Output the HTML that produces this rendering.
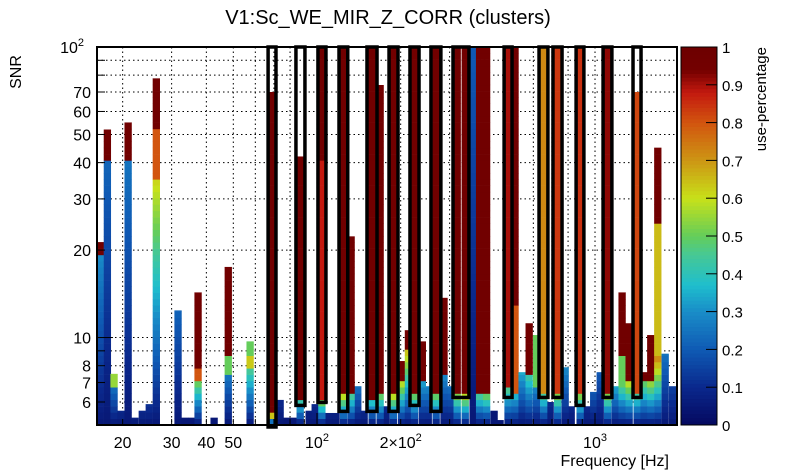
<!DOCTYPE html>
<html><head><meta charset="utf-8">
<style>
html,body{margin:0;padding:0;background:#fff;}
svg{display:block;font-family:"Liberation Sans",sans-serif;}
</style></head>
<body>
<svg id="chart" width="805" height="472" viewBox="0 0 805 472">
<text x="388" y="24" font-size="20" text-anchor="middle">V1:Sc_WE_MIR_Z_CORR (clusters)</text>
<text transform="translate(21,72) rotate(-90)" font-size="16" text-anchor="middle">SNR</text>
<text x="669" y="466" font-size="16" text-anchor="end">Frequency [Hz]</text>
<text transform="translate(766,47) rotate(-90)" font-size="15" text-anchor="end">use-percentage</text>
<g id="grid"></g>
<g id="floor"></g>
<g id="cols"></g>
<g id="clusters"></g>
<g id="axes"></g>
<g id="cbar"></g>
</svg>
<script>
// ---- data ----
const colFreq  = [16.6,17.6,18.6,19.7,20.9,22.1,23.5,24.9,26.4,31.6,33.5,35.5,37.3,42.6,47.9,57.4,68.9,73.6,
  86.9,104,124.5,132.5,157.7,168.5,188,201,213,224,239,268,286,319,341,364,384,407,486,515,546,579,616,653,733,780,883,1109,1250,1325,1416,1500,1585,1680,1786,1900];
const colTop   = [21.3,52,7.5,5.6,55,5.3,5.6,5.9,78,12.4,5.3,5.3,14.3,5.3,17.5,9.7,70,6.1,
  42,100,100,22.3,100,74,100,8.3,10.6,100,9.7,100,13.7,100,100,100,100,100,100,100,7.6,11.2,10.2,100,100,7.9,100,100,14.3,11.2,70,7.6,10.2,45,8.8,6.8];
const colSplit1= [19.5,40,6.8,5.6,40,5.3,5.6,5.9,35,12.4,5.3,5.3,7.2,5.3,7.3,7.7,5.5,6.1,
  6.2,6.2,6.3,6.3,6.2,6.3,6.3,7,9,6.3,7.2,6.3,7.5,6.5,6.3,100,6.5,6.3,6.8,6.5,7.6,7.5,6.8,6.5,6.5,7.9,6.5,6.5,7.2,7,6.5,7,7.2,8.5,8.8,6.8];
const colLow   = [0.3,0.22,0.25,0.1,0.25,0.08,0.1,0.12,0.62,0.22,0.05,0.05,0.55,0.05,0.25,0.45,0.8,0.1,
  0.5,0.6,0.6,0.45,0.45,0.5,0.6,0.6,0.65,0.5,0.35,0.5,0.3,0.6,0.6,0.2,0.5,0.5,0.5,0.4,0.35,0.45,0.3,0.5,0.6,0.3,0.6,0.6,0.55,0.6,0.5,0.5,0.6,0.72,0.25,0.15];
const colSplit2= [19.5,40,6.8,5.6,40,5.3,5.6,5.9,52,12.4,5.3,5.3,8,5.3,8.8,8.7,5.5,6.1,
  6.2,40,6.3,6.3,6.2,6.3,6.3,7,9,6.3,7.2,6.3,7.5,6.5,6.3,100,6.5,6.3,6.8,13,7.6,7.5,6.8,6.5,6.5,7.9,6.5,6.5,8.6,7,6.5,7,7.2,25,8.8,6.8];
const colMid   = [0.97,0.97,0.55,0.1,0.97,0.08,0.1,0.12,0.8,0.22,0.05,0.05,0.8,0.05,0.5,0.63,0.97,0.1,
  0.97,0.88,0.97,0.97,0.97,0.97,0.95,0.97,0.97,0.95,0.97,0.95,0.97,0.97,0.97,0.2,0.97,0.97,0.9,0.8,0.35,0.97,0.5,0.72,0.84,0.5,0.85,0.92,0.5,0.97,0.82,0.97,0.97,0.65,0.5,0.15];
const colHigh  = [0.97,0.97,0.55,0.1,0.97,0.08,0.1,0.12,0.97,0.22,0.05,0.05,0.97,0.05,0.97,0.5,0.97,0.1,
  0.97,0.97,0.97,0.97,0.97,0.97,0.95,0.97,0.97,0.95,0.97,0.95,0.97,0.97,0.97,0.2,0.97,0.97,0.9,0.97,0.35,0.97,0.5,0.72,0.84,0.5,0.85,0.92,0.97,0.97,0.82,0.97,0.97,0.97,0.5,0.15];
const floorFreq = [77.4,82,93.6,98.4,110.4,117,140,147.6,177,251,301,433,455,689,820,935,988,1043,1180];
const floorTop  = [5.3,5.3,5.6,5.9,5.5,5.5,6.8,5.6,5.8,6.8,6.8,5.6,5.2,6.0,5.8,5.8,6.5,7.6,6.8];
const floorVal  = [0.05,0.05,0.08,0.1,0.08,0.08,0.25,0.1,0.1,0.3,0.25,0.05,0.05,0.1,0.1,0.1,0.2,0.2,0.35];
const clusterLo = [66.7,84.0,100.8,120,151.3,181.6,216,257,308.5,471,629,706,855,1069,1370];
const clusterHi = [71.2,90.5,107.7,129,164.4,195.6,232.8,279,352,503,677,761,912,1150,1464];
const clusterBottom = [5,5.84,5.98,5.57,5.57,5.57,5.84,5.57,6.22,6.22,6.22,6.22,5.84,6.22,6.22];
const yTickVals = [6,7,8,10,20,30,40,50,60,70,100];
const yTickLabels = ["6","7","8","10","20","30","40","50","60","70","10<sup>2</sup>"];
const xTickVals = [20,30,40,50,100,200,1000];
const cbTickVals = [0,0.1,0.2,0.3,0.4,0.5,0.6,0.7,0.8,0.9,1];

// ---- axes ----
const PL=97, PR=677, PT=47, PB=425;
const XMIN=16.17, XMAX=1972, YMIN=5.0, YMAX=100;
const xs = f => PL + (PR-PL)*(Math.log10(f)-Math.log10(XMIN))/(Math.log10(XMAX)-Math.log10(XMIN));
const ys = v => PB - (PB-PT)*(Math.log10(v)-Math.log10(YMIN))/(Math.log10(YMAX)-Math.log10(YMIN));
const NS="http://www.w3.org/2000/svg";
function mk(tag, attrs, parent){const e=document.createElementNS(NS,tag);for(const k in attrs)e.setAttribute(k,attrs[k]);parent.appendChild(e);return e;}

const stops=[[0,5,8,95],[0.1,10,40,140],[0.2,15,90,180],[0.3,25,140,200],[0.37,30,190,205],[0.45,70,200,150],[0.5,100,205,90],[0.6,200,225,25],[0.7,205,150,20],[0.8,210,85,15],[0.88,195,25,15],[0.94,115,0,0],[1,110,0,0]];
function col(v){v=Math.max(0,Math.min(1,v));for(let i=1;i<stops.length;i++){if(v<=stops[i][0]){const a=stops[i-1],b=stops[i],t=(v-a[0])/(b[0]-a[0]);return `rgb(${Math.round(a[1]+t*(b[1]-a[1]))},${Math.round(a[2]+t*(b[2]-a[2]))},${Math.round(a[3]+t*(b[3]-a[3]))})`;}}return "rgb(110,0,0)";}

// grid
const grid=document.getElementById('grid');
for(let d=10;d<=1000;d*=10)for(let m=1;m<10;m++){const f=m*d;if(f<=XMIN||f>=XMAX)continue;const x=xs(f);
  const l=mk('line',{x1:x,x2:x,y1:PT,y2:PB,stroke:'#000','stroke-width':1,'stroke-dasharray':'1.5,3'},grid);
  
  }
for(let v=6;v<100;v+=(v<10?1:10)){const y=ys(v);
  const l=mk('line',{x1:PL,x2:PR,y1:y,y2:y,stroke:'#000','stroke-width':1,'stroke-dasharray':'1.5,3'},grid);
  
  }

const cellH=6.3, W=7;
function drawColumn(g,f,top,s1,low,s2,mid,high){
  const x=xs(f)-W/2; const yTop=ys(top);
  for(let yb=PB; yb>yTop+0.01; yb-=cellH){
    const yt=Math.max(yTop,yb-cellH); const v=Math.pow(10,Math.log10(YMIN)+(PB-(yb+yt)/2)/(PB-PT)*(Math.log10(YMAX)-Math.log10(YMIN)));
    let val;
    if(v<=s1){const t=(Math.log10(v)-Math.log10(YMIN))/Math.max(1e-6,Math.log10(s1)-Math.log10(YMIN));val=0.05+(low-0.05)*Math.min(1,t);}
    else if(v<=s2) val=mid; else val=high;
    const r=mk('rect',{x:x,y:yt,width:W+0.3,height:yb-yt+0.3,fill:col(val)},g);
    
    
  }
}
const fl=document.getElementById('floor');
floorFreq.forEach((f,i)=>drawColumn(fl,f,floorTop[i],floorTop[i],floorVal[i],floorTop[i],floorVal[i],floorVal[i]));
const cg=document.getElementById('cols');
colFreq.forEach((f,i)=>drawColumn(cg,f,colTop[i],colSplit1[i],colLow[i],colSplit2[i],colMid[i],colHigh[i]));

// clusters
const cl=document.getElementById('clusters');
clusterLo.forEach((lo,i)=>{const x1=xs(lo),x2=xs(clusterHi[i]);const yb=clusterBottom[i]<=YMIN?PB+2:ys(clusterBottom[i]);
  const r=mk('rect',{x:x1,y:PT,width:x2-x1,height:yb-PT,fill:'none',stroke:'#000','stroke-width':3.5},cl);
  
  });

// axes frame + ticks
const ax=document.getElementById('axes');
const fr=mk('rect',{x:PL,y:PT,width:PR-PL,height:PB-PT,fill:'none',stroke:'#000','stroke-width':2},ax);


for(let d=10;d<=1000;d*=10)for(let m=1;m<10;m++){const f=m*d;if(f<=XMIN||f>=XMAX)continue;const x=xs(f);const L=(m==1)?12:6;
  const t=mk('line',{x1:x,x2:x,y1:PB,y2:PB-L,stroke:'#000','stroke-width':1},ax);
  
  }
for(let v=6;v<=100;v+=(v<10?1:10)){const y=ys(v);const L=(v==10||v==100)?16:8;
  const t=mk('line',{x1:PL,x2:PL+L,y1:y,y2:y,stroke:'#000','stroke-width':1},ax);
  
  }
yTickVals.forEach((v,i)=>{const y=ys(v);const t=mk('text',{x:PL-6,y:y+6,'font-size':16,'text-anchor':'end'},ax);
  if(v===100){t.innerHTML='10<tspan dy="-7" font-size="11">2</tspan>';t.setAttribute('x',PL-13);}else t.textContent=yTickLabels[i];
  
  });
xTickVals.forEach(v=>{const x=xs(v);const t=mk('text',{x:x,y:448,'font-size':16,'text-anchor':'middle'},ax);
  if(v===100)t.innerHTML='10<tspan dy="-7" font-size="11">2</tspan>';
  else if(v===1000)t.innerHTML='10<tspan dy="-7" font-size="11">3</tspan>';
  else if(v===200)t.innerHTML='2×10<tspan dy="-7" font-size="11">2</tspan>';
  else t.textContent=String(v);
  
  });

// colorbar
const cb=document.getElementById('cbar'); const CX=681, CW=36;
for(let i=0;i<100;i++){const y=PB-(i+1)*(PB-PT)/100;
  const r=mk('rect',{x:CX,y:y,width:CW,height:(PB-PT)/100+0.5,fill:col((i+0.5)/100)},cb);
  
  }
const cbf=mk('rect',{x:CX,y:PT,width:CW,height:PB-PT,fill:'none',stroke:'#000','stroke-width':1},cb);


cbTickVals.forEach(v=>{const y=PB-v*(PB-PT);
  const t=mk('line',{x1:CX+CW-11,x2:CX+CW,y1:y,y2:y,stroke:'#000','stroke-width':1},cb);
  
  
  const l=mk('text',{x:CX+CW+5,y:y+6,'font-size':15},cb);l.textContent=String(v);
  
  });
</script>
</body></html>
